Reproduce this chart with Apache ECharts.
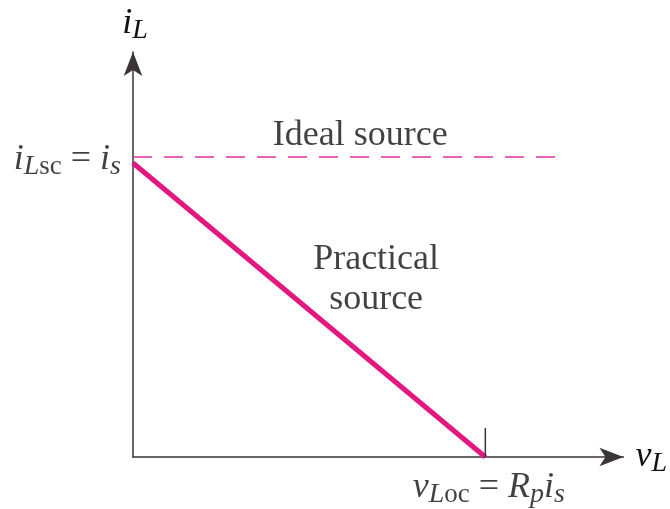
<!DOCTYPE html>
<html>
<head>
<meta charset="utf-8">
<script src="https://cdn.jsdelivr.net/npm/echarts@6/dist/echarts.min.js"></script>
<style>
html, body { margin: 0; background: #fff; }
#chart { width: 670px; height: 509px; }
</style>
</head>
<body>
<div id="chart"></div>
<script>
// curves in normalised units: x = vL / vLoc, y = iL / is
var practical = [[0, 0.98], [1, 0]];
var ideal = [[0, 1], [1.22, 1]];
var ocTick = [[1, 0], [1, 0.097]];
// label anchors
var noteNames = ['ideal', 'practical', 'isc', 'voc'];
var notePoints = [[0.645, 1.07], [0.69, 0.59], [0, 0.99], [1.01, 0]];

var serif = 'Liberation Serif';
var ink = '#111';
var pink = '#e2177f';

var rich = {
    v: { fontFamily: serif, fontSize: 36, color: ink, lineHeight: 40 },
    i: { fontFamily: serif, fontStyle: 'italic', fontSize: 36, color: ink, lineHeight: 40 },
    sub: { fontFamily: serif, fontStyle: 'italic', fontSize: 28, color: ink, lineHeight: 40, padding: [14, 0, 0, 0] },
    subr: { fontFamily: serif, fontSize: 27, color: ink, lineHeight: 40, padding: [14, 0, 0, 0] }
};

var noteText = {
    ideal: '{v|Ideal source}',
    practical: '{v|Practical}\n{v|source}',
    isc: '{i|i}{sub|L}{subr|sc}{v| = }{i|i}{sub|s}',
    voc: '{i|v}{sub|L}{subr|oc}{v| = }{i|R}{sub|p}{i|i}{sub|s}'
};
var notePos = { ideal: 'inside', practical: 'inside', isc: 'left', voc: 'bottom' };
var noteGap = { ideal: 0, practical: 0, isc: 12, voc: 11 };

var myChart = echarts.init(document.getElementById('chart'));
var option = {
    animation: false,
    backgroundColor: '#fff',
    grid: { left: 133, right: 40, top: 52, bottom: 52 },
    xAxis: {
        type: 'value',
        min: 0,
        max: 1.392,
        name: '{i|v}{sub|L}',
        nameLocation: 'end',
        nameGap: 12,
        nameTextStyle: { rich: rich },
        axisLine: {
            show: true,
            symbol: ['none', 'arrow'],
            symbolSize: [14, 24],
            lineStyle: { color: '#3b3535', width: 1.5 }
        },
        axisTick: { show: false },
        axisLabel: { show: false },
        splitLine: { show: false }
    },
    yAxis: {
        type: 'value',
        min: 0,
        max: 1.35,
        name: '{i|i}{sub|L}',
        nameLocation: 'end',
        nameGap: 8,
        nameTextStyle: { rich: rich, align: 'center', padding: [0, 0, 0, 4] },
        axisLine: {
            show: true,
            symbol: ['none', 'arrow'],
            symbolSize: [14, 24],
            lineStyle: { color: '#3b3535', width: 1.5 }
        },
        axisTick: { show: false },
        axisLabel: { show: false },
        splitLine: { show: false }
    },
    series: [{
        type: 'line',
        data: ideal,
        symbol: 'none',
        lineStyle: { color: '#e8309a', width: 1.5, type: [19, 12] },
        z: 2
    }, {
        type: 'line',
        data: practical,
        symbol: 'none',
        lineStyle: { color: pink, width: 5 },
        z: 3
    }, {
        type: 'line',
        data: ocTick,
        symbol: 'none',
        lineStyle: { color: '#3b3535', width: 1.5 },
        z: 4
    }, {
        type: 'scatter',
        symbolSize: 0,
        silent: true,
        clip: false,
        data: noteNames.map(function (n, k) {
            return {
                name: n,
                value: notePoints[k],
                label: {
                    show: true,
                    position: notePos[n],
                    distance: noteGap[n],
                    color: ink,
                    formatter: noteText[n],
                    rich: rich
                }
            };
        })
    }]
};
myChart.setOption(option);
</script>
</body>
</html>
